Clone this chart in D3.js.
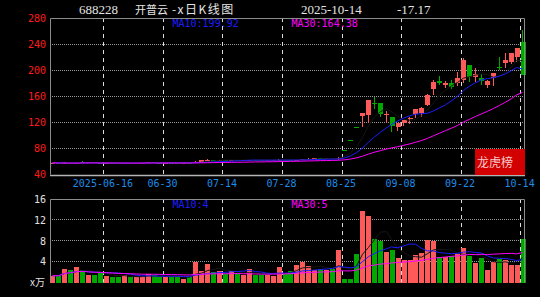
<!DOCTYPE html>
<html>
<head>
<meta charset="utf-8">
<script src="https://cdn.jsdelivr.net/npm/d3@7"></script>
<style>
html, body { margin: 0; padding: 0; background: #000; }
svg { display: block; }
</style>
</head>
<body>
<div id="graph"></div>
<script>
/*global d3 */

var dates = [
    "2025-06-03", "2025-06-04", "2025-06-05", "2025-06-06", "2025-06-09", "2025-06-10", "2025-06-11", "2025-06-12", "2025-06-13", "2025-06-16",
    "2025-06-17", "2025-06-18", "2025-06-19", "2025-06-20", "2025-06-23", "2025-06-24", "2025-06-25", "2025-06-26", "2025-06-27", "2025-06-30",
    "2025-07-01", "2025-07-02", "2025-07-03", "2025-07-04", "2025-07-07", "2025-07-08", "2025-07-09", "2025-07-10", "2025-07-11", "2025-07-14",
    "2025-07-15", "2025-07-16", "2025-07-17", "2025-07-18", "2025-07-21", "2025-07-22", "2025-07-23", "2025-07-24", "2025-07-25", "2025-07-28",
    "2025-07-29", "2025-07-30", "2025-07-31", "2025-08-01", "2025-08-04", "2025-08-05", "2025-08-06", "2025-08-07", "2025-08-08", "2025-08-25",
    "2025-08-26", "2025-08-27", "2025-08-28", "2025-08-29", "2025-09-01", "2025-09-02", "2025-09-03", "2025-09-04", "2025-09-05", "2025-09-08",
    "2025-09-09", "2025-09-10", "2025-09-11", "2025-09-12", "2025-09-15", "2025-09-16", "2025-09-17", "2025-09-18", "2025-09-19", "2025-09-22",
    "2025-09-23", "2025-09-24", "2025-09-25", "2025-09-26", "2025-09-29", "2025-09-30", "2025-10-09", "2025-10-10", "2025-10-13", "2025-10-14"
];

var ouvertures = [
    57.4, 58.0, 57.2, 57.8, 57.0, 59.6, 58.0, 58.6, 57.8, 57.2,
    57.8, 57.2, 56.8, 57.5, 57.0, 57.6, 58.2, 58.8, 58.2, 57.6,
    58.2, 57.6, 57.2, 57.8, 57.6, 59.8, 61.8, 62.4, 61.8, 62.3,
    61.8, 62.2, 61.6, 62.0, 62.4, 62.0, 61.6, 62.0, 62.4, 62.8,
    62.2, 61.8, 62.6, 63.4, 64.4, 65.0, 64.4, 64.8, 63.2, 78.0,
    93.6, 112.3, 130.0, 131.0, 150.0, 149.0, 130.5, 127.7, 113.3, 118.5,
    124.5, 132.7, 133.8, 146.0, 170.6, 184.0, 177.0, 180.0, 180.7, 184.8,
    207.8, 189.9, 187.4, 177.2, 187.4, 205.5, 210.4, 212.9, 220.5, 243.0
];

var plus_hauts = [
    58.4, 58.3, 58.6, 58.2, 58.2, 60.0, 59.0, 58.8, 58.0, 58.0,
    58.0, 57.4, 57.8, 57.7, 57.8, 58.4, 59.0, 59.0, 58.4, 58.4,
    58.4, 57.8, 58.0, 58.0, 60.6, 62.8, 63.2, 62.8, 62.8, 62.6,
    62.8, 62.4, 62.4, 63.0, 62.6, 62.2, 62.4, 62.8, 63.2, 63.0,
    62.4, 63.0, 63.8, 65.4, 65.4, 65.2, 65.4, 65.0, 66.6, 78.0,
    93.6, 112.3, 134.8, 155.0, 159.0, 150.0, 138.0, 128.0, 119.0, 124.0,
    128.0, 141.0, 144.0, 163.0, 184.8, 191.0, 183.0, 185.0, 197.6, 219.0,
    208.0, 202.8, 193.5, 185.0, 195.0, 220.5, 225.7, 225.7, 233.4, 261.5
];

var plus_bas = [
    57.0, 56.9, 57.0, 56.8, 56.8, 57.8, 57.6, 57.6, 57.0, 56.9,
    57.0, 56.5, 56.6, 56.8, 56.8, 57.4, 58.0, 58.0, 57.4, 57.4,
    57.4, 57.0, 57.0, 57.2, 57.4, 59.4, 61.2, 61.4, 61.6, 61.6,
    61.6, 61.4, 61.4, 61.8, 61.8, 61.4, 61.4, 61.8, 62.2, 62.0,
    61.6, 61.6, 62.4, 63.0, 64.0, 64.2, 64.2, 63.8, 62.8, 78.0,
    93.6, 111.0, 113.0, 118.5, 141.0, 128.0, 119.0, 105.6, 107.0, 115.0,
    117.0, 126.0, 127.7, 145.0, 161.8, 177.0, 172.0, 170.6, 175.6, 179.8,
    182.0, 182.0, 177.0, 173.0, 176.0, 200.0, 202.8, 209.0, 212.9, 192.5
];

var clotures = [
    58.0, 57.2, 57.8, 57.0, 57.6, 58.0, 58.6, 57.8, 57.2, 57.8,
    57.2, 56.8, 57.5, 57.0, 57.6, 58.2, 58.8, 58.2, 57.6, 58.2,
    57.6, 57.2, 57.8, 57.4, 59.6, 62.2, 62.4, 61.8, 62.3, 61.8,
    62.2, 61.6, 62.0, 62.4, 62.0, 61.6, 62.0, 62.4, 62.8, 62.2,
    61.8, 62.6, 63.4, 64.4, 65.0, 64.4, 64.8, 64.0, 65.0, 78.0,
    93.6, 112.3, 134.8, 154.0, 148.0, 133.0, 133.5, 114.5, 118.5, 123.5,
    126.0, 140.0, 141.5, 162.0, 182.2, 180.0, 180.7, 174.5, 188.4, 215.5,
    190.0, 193.5, 183.3, 183.3, 195.0, 204.5, 215.5, 225.7, 233.4, 193.3
];

// volumes en dizaines de milliers
var volumes = [
    1.35, 1.3, 2.6, 2.4, 2.95, 2.4, 1.5, 1.5, 1.8, 1.3,
    1.15, 1.0, 1.5, 1.15, 1.0, 1.15, 1.6, 1.4, 1.15, 1.15,
    1.15, 1.15, 0.8, 1.0, 4.0, 2.2, 3.6, 2.05, 2.2, 1.65,
    2.3, 1.7, 1.4, 2.6, 1.5, 1.4, 1.5, 1.35, 2.95, 1.65,
    2.2, 3.4, 4.0, 3.2, 2.4, 2.55, 2.4, 2.55, 6.3, 0.8,
    0.8, 5.5, 13.8, 12.8, 8.3, 8.0, 5.9, 6.2, 4.7, 4.35,
    4.35, 5.25, 5.7, 8.1, 8.0, 4.9, 4.9, 5.1, 5.5, 6.7,
    5.1, 3.8, 4.7, 2.4, 4.0, 4.5, 4.35, 3.4, 3.4, 8.3
];

var ticks_prix = [40, 80, 120, 160, 200, 240, 280];
var ticks_volume = [4, 8, 12, 16];
var dates_reperes = ["2025-06-16", "2025-06-30", "2025-07-14", "2025-07-28", "2025-08-25", "2025-09-08", "2025-09-22", "2025-10-14"];
var libelles_reperes = ["2025-06-16", "06-30", "07-14", "07-28", "08-25", "09-08", "09-22", "10-14"];

function moyenneMobile(valeurs, n) {
    "use strict";
    return valeurs.map(function (v, i) {
        return d3.mean(valeurs.slice(Math.max(0, i - n + 1), i + 1));
    });
}

function dessinKline() {
    "use strict";
    var gauche = 50, droite = 524,
        haut_prix = 18, bas_prix = 174.5,
        haut_vol = 199, bas_vol = 282.7,

        couleur_hausse = "#ff5a5a",
        couleur_baisse = "#00a800",
        couleur_ma5 = "#161616",
        couleur_ma10 = "#1c1cff",
        couleur_ma30 = "#ff00ff",
        couleur_cadre = "#8c8c8c",
        mono = "'DejaVu Sans Mono', monospace",

        indices = d3.range(dates.length),

        svg = d3.select("#graph")
            .append("svg")
                .attr("width", 540)
                .attr("height", 297)
                .style("background", "#000"),

        x = d3.scaleBand()
            .domain(dates)
            .range([49.7, 525.9])
            .paddingInner(0.22)
            .paddingOuter(0.11),

        y = d3.scaleLinear()
            .domain([40, 280])
            .range([bas_prix, haut_prix]),

        yv = d3.scaleLinear()
            .domain([0, 16])
            .range([bas_vol, haut_vol]),

        lb = x.bandwidth(),
        milieu = function (i) { return Math.floor(x(dates[i]) + lb / 2) + 0.5; },
        couleur = function (i) { return clotures[i] > ouvertures[i] ? couleur_hausse : couleur_baisse; },
        pixel = function (v) { return Math.floor(v) + 0.5; };

    // quadrillage horizontal pointillé
    svg.selectAll(".grille-prix")
        .data(ticks_prix.slice(1, -1))
        .enter()
        .append("line")
        .attr("x1", gauche)
        .attr("x2", droite)
        .attr("y1", function (d) { return pixel(y(d)); })
        .attr("y2", function (d) { return pixel(y(d)); })
        .style("stroke", "#9a9a9a")
        .style("stroke-dasharray", "1 1");
    svg.selectAll(".grille-vol")
        .data(ticks_volume.slice(0, -1))
        .enter()
        .append("line")
        .attr("x1", gauche)
        .attr("x2", droite)
        .attr("y1", function (d) { return pixel(yv(d)); })
        .attr("y2", function (d) { return pixel(yv(d)); })
        .style("stroke", "#9a9a9a")
        .style("stroke-dasharray", "1 1");

    // repères verticaux tiretés
    [[haut_prix, bas_prix], [haut_vol, bas_vol]].forEach(function (zone) {
        svg.selectAll(null)
            .data(dates_reperes)
            .enter()
            .append("line")
            .attr("x1", function (d) { return pixel(x(d)); })
            .attr("x2", function (d) { return pixel(x(d)); })
            .attr("y1", zone[0])
            .attr("y2", zone[1])
            .style("stroke", "#dcdcdc")
            .style("stroke-dasharray", "4 4");
    });

    // chandeliers
    svg.selectAll(".meche")
        .data(indices)
        .enter()
        .append("line")
        .attr("x1", milieu)
        .attr("x2", milieu)
        .attr("y1", function (i) { return y(plus_hauts[i]); })
        .attr("y2", function (i) { return y(plus_bas[i]); })
        .style("stroke", couleur)
        .style("shape-rendering", "crispEdges");
    svg.selectAll(".corps")
        .data(indices)
        .enter()
        .append("rect")
        .attr("x", function (i) { return Math.round(x(dates[i])); })
        .attr("width", Math.round(lb))
        .attr("y", function (i) { return y(Math.max(ouvertures[i], clotures[i])); })
        .attr("height", function (i) { return Math.max(1, Math.abs(y(ouvertures[i]) - y(clotures[i]))); })
        .style("fill", couleur)
        .style("shape-rendering", "crispEdges");

    // volumes
    svg.selectAll(".volume")
        .data(indices)
        .enter()
        .append("rect")
        .attr("x", function (i) { return Math.round(x(dates[i])); })
        .attr("width", Math.round(lb))
        .attr("y", function (i) { return yv(volumes[i]); })
        .attr("height", function (i) { return yv(0) - yv(volumes[i]); })
        .style("fill", couleur)
        .style("shape-rendering", "crispEdges");

    // moyennes mobiles
    [[5, couleur_ma5], [10, couleur_ma10], [30, couleur_ma30]].forEach(function (m) {
        svg.append("path")
            .datum(moyenneMobile(clotures, m[0]))
            .attr("fill", "none")
            .attr("stroke", m[1])
            .attr("stroke-width", 1)
            .attr("d", d3.line()
                .x(function (d, i) { return milieu(i); })
                .y(function (d) { return y(d); }));
        svg.append("path")
            .datum(moyenneMobile(volumes, m[0]))
            .attr("fill", "none")
            .attr("stroke", m[1])
            .attr("stroke-width", 1)
            .attr("d", d3.line()
                .x(function (d, i) { return milieu(i); })
                .y(function (d) { return yv(d); }));
    });

    // cadres
    svg.append("path")
        .attr("d", "M" + pixel(gauche) + "," + bas_prix + "V" + pixel(haut_prix) + "H" + pixel(droite) + "V" + bas_prix)
        .attr("fill", "none")
        .attr("stroke", couleur_cadre);
    svg.append("line")
        .attr("x1", gauche)
        .attr("x2", droite + 1)
        .attr("y1", 175.5)
        .attr("y2", 175.5)
        .style("stroke", "#b4b4b4")
        .style("stroke-width", 1.6);
    svg.append("path")
        .attr("d", "M" + pixel(gauche) + "," + bas_vol + "V" + pixel(haut_vol) + "H" + pixel(droite) + "V" + bas_vol)
        .attr("fill", "none")
        .attr("stroke", couleur_cadre);

    // axes
    var axe_prix = svg.append("g")
        .attr("transform", "translate(" + gauche + ",0)")
        .call(d3.axisLeft(y).tickValues(ticks_prix).tickSize(0).tickPadding(4));
    axe_prix.select(".domain").remove();
    axe_prix.selectAll("text")
        .style("fill", "#ff1a1a")
        .style("font-family", mono)
        .style("font-size", "10px");

    var axe_vol = svg.append("g")
        .attr("transform", "translate(" + gauche + ",0)")
        .call(d3.axisLeft(yv).tickValues(ticks_volume).tickSize(0).tickPadding(4));
    axe_vol.select(".domain").remove();
    axe_vol.selectAll("text")
        .style("fill", "#e0e0e0")
        .style("font-family", mono)
        .style("font-size", "10px");
    svg.append("text")
        .attr("x", 45)
        .attr("y", bas_vol)
        .attr("dy", "0.32em")
        .style("text-anchor", "end")
        .style("fill", "#e0e0e0")
        .style("font-family", "'Noto Sans CJK SC', sans-serif")
        .style("font-size", "10px")
        .text("x万");

    var axe_dates = svg.append("g")
        .attr("transform", "translate(" + (-lb / 2 - 1) + ",180)")
        .call(d3.axisBottom(x)
            .tickValues(dates_reperes)
            .tickSize(0)
            .tickPadding(0)
            .tickFormat(function (d) { return libelles_reperes[dates_reperes.indexOf(d)]; }));
    axe_dates.select(".domain").remove();
    axe_dates.selectAll("text")
        .style("fill", "#1e8ce6")
        .style("font-family", mono)
        .style("font-size", "10px");

    // légendes des moyennes
    [
        [172.5, 27, "MA10:199.92", couleur_ma10],
        [291.5, 27, "MA30:164.38", couleur_ma30],
        [172.5, 208, "MA10:4", couleur_ma10],
        [291.5, 208, "MA30:5", couleur_ma30]
    ].forEach(function (l) {
        svg.append("text")
            .attr("x", l[0])
            .attr("y", l[1])
            .style("fill", l[3])
            .style("font-family", mono)
            .style("font-size", "10px")
            .text(l[2]);
    });

    // titre
    [
        [79, "688228", "'Liberation Serif', serif", 13, 0],
        [135, "开普云", "'Noto Sans CJK SC', sans-serif", 11, 0],
        [172, "-x日K线图", "'Noto Sans CJK SC', sans-serif", 12, 1.5],
        [301, "2025-10-14", "'Liberation Serif', serif", 13, 0],
        [397, "-17.17", "'Liberation Serif', serif", 13, 0]
    ].forEach(function (t) {
        svg.append("text")
            .attr("x", t[0])
            .attr("y", 14)
            .style("fill", "#e4e4e4")
            .style("font-family", t[2])
            .style("font-size", t[3] + "px")
            .style("letter-spacing", t[4] + "px")
            .text(t[1]);
    });

    // étiquette « 龙虎榜 »
    svg.append("rect")
        .attr("x", 475)
        .attr("y", 149)
        .attr("width", 50)
        .attr("height", 26)
        .style("fill", "#d20000");
    svg.append("text")
        .attr("x", 477)
        .attr("y", 166.5)
        .style("fill", "#f4cccc")
        .style("font-family", "'Noto Sans CJK SC', sans-serif")
        .style("font-size", "12px")
        .text("龙虎榜");
}

dessinKline();
</script>
</body>
</html>
